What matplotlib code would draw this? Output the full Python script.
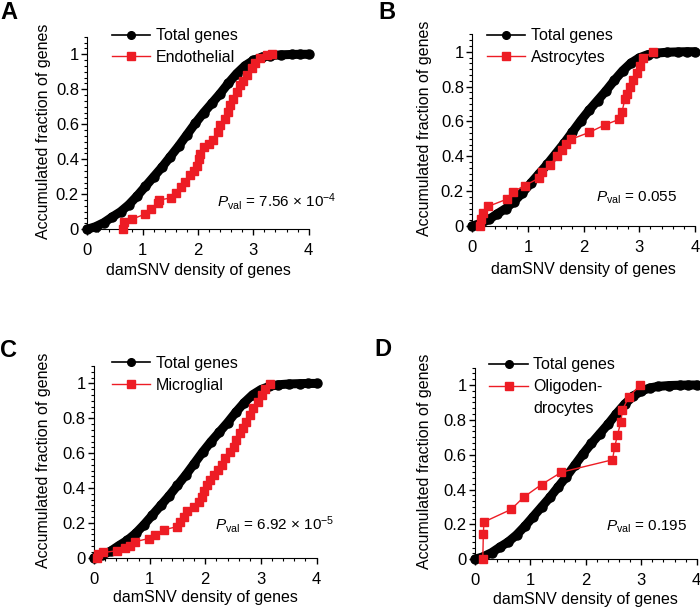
import numpy as np
import matplotlib
matplotlib.use('Agg')
import matplotlib.pyplot as plt
from matplotlib.lines import Line2D
from matplotlib.ticker import AutoMinorLocator, FuncFormatter, MultipleLocator

# 字体设置
plt.rcParams['font.family'] = ['Liberation Sans', 'DejaVu Sans']
plt.rcParams['mathtext.fontset'] = 'custom'
plt.rcParams['mathtext.rm'] = 'Liberation Sans'
plt.rcParams['mathtext.it'] = 'Liberation Sans:italic'

RED = '#ED1C24'

# 全部基因的累积分布 (四个子图共用)
total_x = [0, 0.15, 0.3, 0.45, 0.6, 0.75, 0.9, 1.05, 1.2, 1.35, 1.5, 1.65, 1.8, 1.95,
           2.1, 2.25, 2.4, 2.55, 2.7, 2.85, 3.0, 3.15, 3.3, 3.5, 3.7, 3.85, 4.0]
total_y = [0, 0.015, 0.038, 0.07, 0.10, 0.14, 0.19, 0.245, 0.30, 0.355, 0.415, 0.475, 0.54, 0.605,
           0.665, 0.72, 0.775, 0.835, 0.89, 0.935, 0.965, 0.983, 0.992, 0.997, 0.999, 1.0, 1.0]

# A: Endothelial
endo_x = [0.65, 0.66, 0.80, 1.04, 1.16, 1.28, 1.30, 1.52, 1.61, 1.70, 1.76, 1.86, 1.92, 1.98,
          2.01, 2.04, 2.10, 2.19, 2.28, 2.37, 2.40, 2.49, 2.55, 2.58, 2.64, 2.70, 2.76, 2.82,
          2.88, 2.97, 3.03, 3.12, 3.24, 3.33]
endo_y = [0, 0.04, 0.057, 0.086, 0.115, 0.153, 0.167, 0.18, 0.21, 0.24, 0.27, 0.31, 0.335, 0.364,
          0.40, 0.43, 0.47, 0.49, 0.51, 0.555, 0.594, 0.632, 0.67, 0.71, 0.747, 0.785, 0.824, 0.85,
          0.88, 0.92, 0.948, 0.977, 0.996, 1.0]

# B: Astrocytes
astro_x = [0.14, 0.15, 0.19, 0.29, 0.63, 0.73, 0.94, 1.19, 1.26, 1.40, 1.52, 1.61, 1.68, 1.77,
           2.10, 2.38, 2.64, 2.69, 2.74, 2.78, 2.83, 2.88, 2.95, 3.02, 3.07, 3.25]
astro_y = [0, 0.04, 0.075, 0.113, 0.155, 0.195, 0.232, 0.273, 0.31, 0.352, 0.40, 0.437, 0.468, 0.497,
           0.537, 0.58, 0.612, 0.655, 0.727, 0.758, 0.795, 0.84, 0.877, 0.918, 0.963, 1.0]

# C: Microglial
micro_x = [0.05, 0.08, 0.17, 0.41, 0.56, 0.65, 0.74, 0.98, 1.10, 1.25, 1.49, 1.55, 1.61, 1.67,
           1.79, 1.88, 1.94, 1.98, 2.03, 2.09, 2.15, 2.22, 2.30, 2.36, 2.45, 2.51, 2.56, 2.62,
           2.68, 2.74, 2.80, 2.86, 2.95, 3.01, 3.07, 3.16]
micro_y = [0, 0.02, 0.03, 0.04, 0.054, 0.067, 0.092, 0.11, 0.13, 0.16, 0.178, 0.206, 0.235, 0.27,
           0.29, 0.32, 0.35, 0.38, 0.417, 0.445, 0.474, 0.503, 0.53, 0.57, 0.608, 0.637, 0.675, 0.713,
           0.742, 0.78, 0.818, 0.857, 0.895, 0.933, 0.97, 0.996]

# D: Oligodendrocytes
oligo_x = [0.14, 0.15, 0.16, 0.65, 0.88, 1.20, 1.56, 2.48, 2.52, 2.57, 2.63, 2.66, 2.77, 2.98]
oligo_y = [0, 0.143, 0.214, 0.286, 0.357, 0.429, 0.50, 0.571, 0.643, 0.714, 0.786, 0.857, 0.929, 1.0]

panels = [
    # 标签, 细胞类型, x, y, P值文字, 坐标轴位置, 图例位置, P值位置, ylabel位置, xlabel位置
    ('A', ['Endothelial'], endo_x, endo_y, r'$P_{\mathrm{val}}$ = 7.56 × 10$^{-4}$',
     [0.1247, 0.6229, 0.3163, 0.3166], (0.110, 1.045), (2.34, 0.13), -0.164, -0.173),
    ('B', ['Astrocytes'], astro_x, astro_y, r'$P_{\mathrm{val}}$ = 0.055',
     [0.6747, 0.6283, 0.3181, 0.3153], (0.065, 1.031), (2.22, 0.139), -0.181, -0.19),
    ('C', ['Microglial'], micro_x, micro_y, r'$P_{\mathrm{val}}$ = 6.92 × 10$^{-5}$',
     [0.1343, 0.0827, 0.3180, 0.3153], (0.079, 1.053), (2.17, 0.159), -0.193, -0.168),
    ('D', ['Oligoden-', 'drocytes'], oligo_x, oligo_y, r'$P_{\mathrm{val}}$ = 0.195',
     [0.6786, 0.0801, 0.3167, 0.3153], (0.065, 1.053), (2.36, 0.163), -0.194, -0.17),
]

letter_pos = {'A': (0.0, 0.9688), 'B': (0.541, 0.9688), 'C': (0.0, 0.4128), 'D': (0.535, 0.4145)}

fig = plt.figure(figsize=(7, 6.08), dpi=100)

for letter, names, xs, ys, ptext, rect, leg_pos, p_pos, ylab_x, xlab_y in panels:
    ax = fig.add_axes(rect)

    # 全部基因: 粗黑线 + 圆点
    ax.plot(total_x, total_y, color='black', lw=6.5, solid_capstyle='round',
            marker='o', ms=6.5, clip_on=False, zorder=2)
    # 细胞类型: 红色方块折线
    ax.plot(xs, ys, color=RED, lw=1, marker='s', ms=6, mec=RED, mfc=RED,
            clip_on=False, zorder=3)

    ax.set_xlim(0, 4)
    ax.set_ylim(0, 1.1)
    ax.spines['top'].set_visible(False)
    ax.spines['right'].set_visible(False)
    ax.spines['left'].set_bounds(0, 1.1)

    ax.xaxis.set_major_locator(MultipleLocator(1))
    ax.xaxis.set_minor_locator(AutoMinorLocator(5))
    ax.set_yticks([0, 0.2, 0.4, 0.6, 0.8, 1.0])
    ax.yaxis.set_minor_locator(AutoMinorLocator(6))
    ax.yaxis.set_major_formatter(FuncFormatter(lambda v, p: '%g' % v))
    ax.tick_params(which='major', direction='out', length=4, width=1, labelsize=12, pad=2)
    ax.tick_params(which='minor', direction='out', length=2.2, width=0.8)
    ax.tick_params(axis='x', which='major', pad=6)

    ax.set_xlabel('damSNV density of genes', fontsize=11.5)
    ax.set_ylabel('Accumulated fraction of genes', fontsize=11.5)
    ax.xaxis.set_label_coords(0.5, xlab_y)
    ax.yaxis.set_label_coords(ylab_x, 0.51)

    # 图例
    handles = [Line2D([], [], color='black', lw=1.2, marker='o', ms=5.5),
               Line2D([], [], color=RED, lw=1, marker='s', ms=5.5)]
    labels = ['Total genes', names[0]]
    if len(names) > 1:
        handles.append(Line2D([], [], color='none'))
        labels.append(names[1])
    ax.legend(handles, labels, loc='upper left', bbox_to_anchor=leg_pos, frameon=False,
              fontsize=11.5, handlelength=2.4, handletextpad=0.35, labelspacing=0.42,
              borderpad=0, borderaxespad=0)

    ax.text(p_pos[0], p_pos[1], ptext, fontsize=11, va='baseline', ha='left')

    fig.text(letter_pos[letter][0], letter_pos[letter][1], letter, fontsize=17,
             fontweight='bold', va='baseline', ha='left')

fig.savefig('out.png', dpi=100)
